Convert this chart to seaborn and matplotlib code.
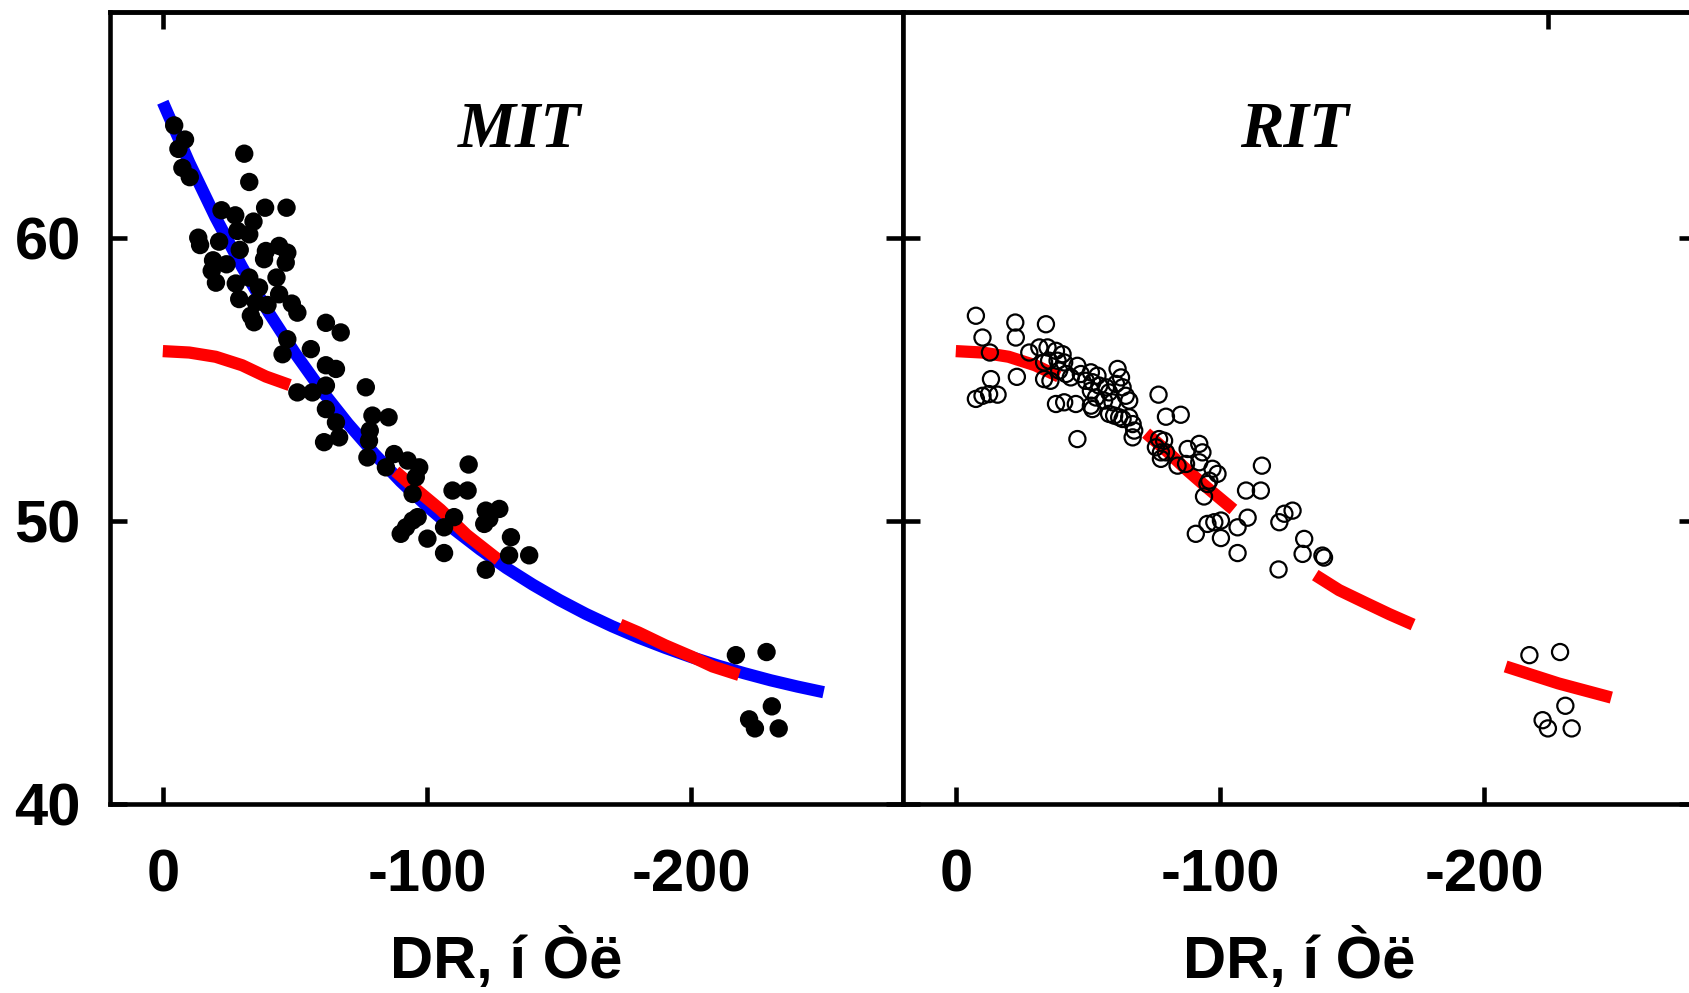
import numpy as np
import pandas as pd
import matplotlib
matplotlib.use("Agg")
import matplotlib.pyplot as plt
import seaborn as sns

# ---------------- data ----------------
panel_titles = ["MIT", "RIT"]
x_label = "DR, í Òë"
x_ticks = [0, -100, -200]
x_tick_labels = ["0", "-100", "-200"]
y_ticks = [40, 50, 60]
y_tick_labels = ["40", "50", "60"]
top_tick_left = [0]
top_tick_right = [-224]

# MIT points (filled)
mit_x = [-4.3, -8.4, -5.9, -7.4, -10.2, -30.8, -32.7, -22.2, -27.4, -38.7,
         -46.8, -34.3, -28.2, -32.7, -13.4, -14.1, -21.3, -29.1, -39.0, -44.0,
         -47.1, -38.3, -46.5, -19.0, -24.1, -18.5, -20.1, -43.0, -27.6, -32.7,
         -28.9, -36.4, -44.0, -35.2, -39.6, -48.8, -50.9, -33.3, -34.5, -61.7,
         -67.3, -47.1, -45.3, -56.0, -61.7, -65.5, -50.9, -56.6, -61.7, -76.8,
         -61.7, -65.5, -61.0, -66.7, -79.3, -85.4, -78.3, -78.0, -77.4, -84.4,
         -87.5, -92.6, -97.0, -95.7, -94.5, -115.7, -109.6, -115.3, -110.2, -106.4,
         -96.4, -94.5, -92.0, -90.0, -100.1, -106.4, -122.2, -127.3, -123.5, -121.6,
         -131.7, -131.0, -138.6, -122.2,
         -216.8, -228.4, -230.4, -221.8, -224.0, -233.0]
mit_y = [63.98, 63.48, 63.15, 62.48, 62.15, 62.98, 61.98, 60.98, 60.80, 61.07,
         61.07, 60.58, 60.25, 60.13, 60.01, 59.75, 59.87, 59.58, 59.54, 59.72,
         59.48, 59.25, 59.13, 59.21, 59.07, 58.84, 58.42, 58.60, 58.39, 58.60,
         57.84, 58.25, 58.01, 57.72, 57.63, 57.68, 57.36, 57.25, 57.02, 57.00,
         56.66, 56.42, 55.89, 56.07, 55.50, 55.37, 54.54, 54.54, 54.78, 54.72,
         53.95, 53.48, 52.78, 52.95, 53.72, 53.66, 53.19, 52.83, 52.24, 51.89,
         52.36, 52.13, 51.89, 51.54, 50.95, 51.99, 51.07, 51.07, 50.13, 49.77,
         50.13, 50.01, 49.77, 49.54, 49.37, 48.86, 50.36, 50.42, 50.07, 49.89,
         49.42, 48.78, 48.78, 48.27,
         45.25, 45.36, 43.44, 42.98, 42.66, 42.66]

# RIT points (open)
rit_x = [-7.6, -10.1, -12.9, -13.3, -7.6, -10.1, -12.6, -15.8, -22.5, -22.7,
         -34.1, -23.1, -27.8, -31.6, -34.7, -37.9, -40.4, -33.4, -35.3, -38.5,
         -41.0, -33.4, -35.8, -39.1, -41.7, -43.5, -46.0, -47.3, -49.2, -37.9,
         -41.0, -45.4, -46.0, -51.1, -53.6, -51.7, -54.3, -51.1, -53.0, -51.1,
         -51.7, -56.8, -58.0, -56.1, -59.3, -61.2, -62.5, -60.6, -63.1, -64.3,
         -65.6, -58.0, -59.9, -61.8, -63.1, -65.6, -66.9, -67.5, -66.9,
         -76.7, -79.5, -85.1, -76.9, -78.8, -75.7, -77.6, -77.6, -79.5,
         -83.9, -87.7, -87.1, -92.1, -93.3, -92.1, -97.1, -99.0, -95.9, -95.2,
         -93.9, -115.8, -109.8, -115.4, -110.4, -106.6, -100.3, -97.8, -95.2, -90.8,
         -100.3, -106.6, -127.4, -124.3, -122.4, -131.8, -131.2, -138.7, -139.3, -122.1,
         -217.0, -228.6, -230.6, -222.0, -224.0, -233.0]
rit_y = [57.25, 56.48, 55.95, 55.01, 54.31, 54.42, 54.48, 54.46, 57.01, 56.48,
         56.95, 55.09, 55.95, 56.13, 56.13, 56.01, 55.89, 55.60, 55.66, 55.66,
         55.60, 55.01, 54.95, 55.31, 55.19, 55.07, 55.48, 55.19, 54.95, 54.13,
         54.19, 54.13, 52.89, 55.25, 55.13, 54.90, 54.78, 54.60, 54.36, 54.07,
         53.95, 54.72, 54.54, 54.25, 54.19, 55.37, 55.07, 54.84, 54.72, 54.42,
         54.25, 53.78, 53.72, 53.66, 53.60, 53.66, 53.42, 53.19, 52.95,
         54.46, 53.68, 53.75, 52.89, 52.83, 52.60, 52.42, 52.19, 52.42,
         51.95, 52.54, 52.01, 52.72, 52.42, 52.07, 51.84, 51.66, 51.42, 51.30,
         50.86, 51.95, 51.07, 51.07, 50.11, 49.77, 50.01, 49.95, 49.89, 49.54,
         49.39, 48.86, 50.36, 50.25, 49.95, 49.36, 48.83, 48.77, 48.70, 48.28,
         45.25, 45.36, 43.46, 42.95, 42.66, 42.66]

# blue curve (MIT fit)
blue_x = [0, -10, -20, -30, -40, -50, -60, -70, -80, -90, -100, -110, -120, -130,
          -140, -150, -160, -170, -180, -190, -200, -210, -220, -230, -240, -250]
blue_y = [64.80, 62.66, 60.72, 58.97, 57.37, 55.93, 54.62, 53.44, 52.37, 51.39,
          50.51, 49.71, 48.99, 48.33, 47.74, 47.20, 46.71, 46.27, 45.87, 45.51,
          45.18, 44.88, 44.61, 44.36, 44.14, 43.94]

# red curve (model), drawn in pieces
red_x = [0, -10, -20, -30, -39, -48, -56, -64, -72, -80, -88, -96, -105, -115,
         -127, -136, -145, -155, -164, -173, -180, -190, -200, -208, -218, -228,
         -238, -248]
red_y = [56.00, 55.95, 55.80, 55.50, 55.10, 54.80, 54.30, 53.75, 53.10, 52.45,
         51.75, 51.10, 50.40, 49.50, 48.62, 48.08, 47.55, 47.10, 46.70, 46.33,
         46.05, 45.60, 45.20, 44.85, 44.55, 44.25, 44.00, 43.75]
red_pieces_left = [(0, -48), (-88, -127), (-173, -218)]
red_pieces_right = [(0, -39), (-72, -105), (-136, -173), (-208, -248)]

# ---------------- style ----------------
sns.set_style("ticks")
plt.rcParams["font.family"] = ["Liberation Sans", "DejaVu Sans"]
plt.rcParams["axes.unicode_minus"] = False
plt.rcParams["text.color"] = "black"
plt.rcParams["axes.labelcolor"] = "black"
plt.rcParams["xtick.color"] = "black"
plt.rcParams["ytick.color"] = "black"

fig = plt.figure(figsize=(16.89, 9.93), dpi=100)
axL = fig.add_axes([0.0651, 0.1907, 0.4695, 0.7975])
axR = fig.add_axes([0.5346, 0.1907, 0.4695, 0.7975])

blue = "#0000ff"
red = "#ff0000"
lw_curve = 8.8
lw_frame = 3.3

red_df = pd.DataFrame({"x": red_x, "y": red_y})


def draw_red(ax, pieces):
    for a, b in pieces:
        seg = red_df[(red_df.x <= a) & (red_df.x >= b)]
        sns.lineplot(data=seg, x="x", y="y", ax=ax, color=red, linewidth=lw_curve,
                     sort=False, estimator=None, solid_capstyle="butt", zorder=3)


# left panel
sns.lineplot(x=blue_x, y=blue_y, ax=axL, color=blue, linewidth=lw_curve,
             sort=False, estimator=None, solid_capstyle="butt", zorder=2)
draw_red(axL, red_pieces_left)
sns.scatterplot(x=mit_x, y=mit_y, ax=axL, color="black", s=175,
                edgecolor="none", linewidth=0, zorder=5)

# right panel
draw_red(axR, red_pieces_right)
sns.scatterplot(x=rit_x, y=rit_y, ax=axR, facecolor="none", edgecolor="black",
                s=135, linewidth=1.6, zorder=5)

for ax, title, tx, top_t in ((axL, panel_titles[0], -135, top_tick_left),
                             (axR, panel_titles[1], -128, top_tick_right)):
    ax.set_xlim(20, -280)
    ax.set_ylim(40, 68)
    for sp in ax.spines.values():
        sp.set_visible(True)
        sp.set_linewidth(lw_frame)
        sp.set_color("black")
    ax.set_xticks(x_ticks, labels=x_tick_labels, fontsize=43, fontweight="bold")
    ax.set_yticks(y_ticks, labels=y_tick_labels, fontsize=43, fontweight="bold")
    ax.tick_params(axis="both", direction="in", length=12, width=lw_frame,
                   color="black", labelcolor="black")
    ax.tick_params(axis="x", pad=32, bottom=True, top=False)
    ax.tick_params(axis="y", pad=21, left=True, right=True)
    ax.set_xlabel(x_label, fontsize=43, fontweight="bold", labelpad=18,
                  color="black")
    ax.set_ylabel("")
    ax.text(tx, 63.8, title, fontsize=47, fontweight="bold", fontstyle="italic",
            family=["Liberation Serif", "DejaVu Serif"], ha="center", va="center",
            color="black")
    sec = ax.secondary_xaxis("top")
    sec.set_xticks(top_t)
    sec.tick_params(direction="in", length=12, width=lw_frame, labeltop=False,
                    color="black")
    sec.spines["top"].set_linewidth(lw_frame)
    ax.grid(False)

axR.tick_params(axis="y", labelleft=False)

fig.savefig("out.png", dpi=100, facecolor="white")
